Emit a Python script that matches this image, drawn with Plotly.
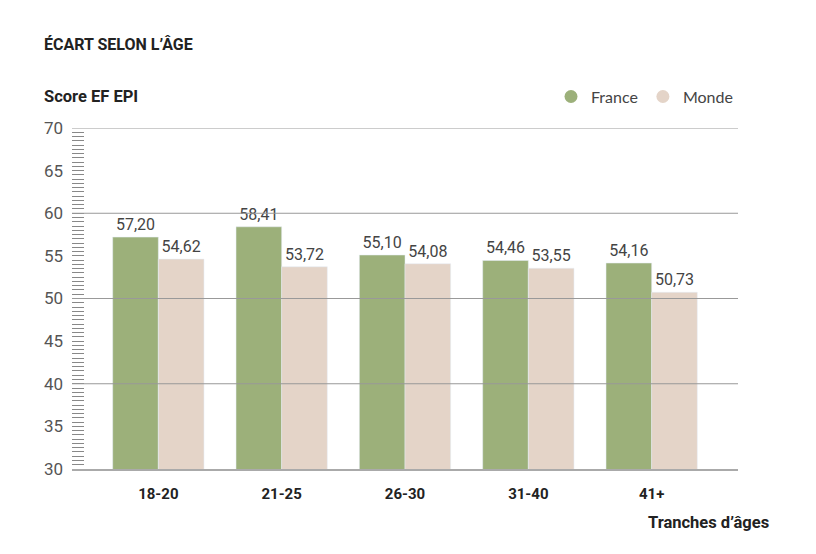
import plotly.graph_objects as go

categories = ["18-20", "21-25", "26-30", "31-40", "41+"]
france = [57.20, 58.41, 55.10, 54.46, 54.16]
monde = [54.62, 53.72, 54.08, 53.55, 50.73]
gridlines = [40, 50, 60, 70]

GREEN = "#9cb07a"
BEIGE = "#e4d4c8"
NUM_FONT = "Liberation Sans Narrow, Roboto, sans-serif"
BOLD_FONT = "Roboto, sans-serif"

fig = go.Figure()
fig.add_trace(go.Bar(x=categories, y=france, name="France", marker_color=GREEN,
                     texttemplate="%{y:.2f}", textposition="outside",
                     textfont=dict(family=NUM_FONT, size=16, color="#444"),
                     cliponaxis=False, showlegend=False))
fig.add_trace(go.Bar(x=categories, y=monde, name="Monde", marker_color=BEIGE,
                     texttemplate="%{y:.2f}", textposition="outside",
                     textfont=dict(family=NUM_FONT, size=16, color="#444"),
                     cliponaxis=False, showlegend=False))
# legend entries with round markers
fig.add_trace(go.Scatter(x=[None], y=[None], mode="markers", name="France",
                         marker=dict(symbol="circle", size=13, color=GREEN)))
fig.add_trace(go.Scatter(x=[None], y=[None], mode="markers", name="Monde",
                         marker=dict(symbol="circle", size=13, color=BEIGE)))

for g in gridlines:
    fig.add_shape(type="line", xref="paper", x0=0, x1=1, yref="y", y0=g, y1=g,
                  line=dict(color="#999999", width=1), layer="above")

fig.update_layout(
    width=816, height=554,
    margin=dict(l=72, r=78, t=128, b=85),
    paper_bgcolor="white", plot_bgcolor="white",
    separators=", ",
    barmode="group", bargap=0.26, bargroupgap=0,
    showlegend=True,
    legend=dict(orientation="h", xanchor="right", x=1.0, yanchor="middle", y=1.092,
                font=dict(family="Lato, sans-serif", size=16, color="#444"),
                itemwidth=30, tracegroupgap=0, bgcolor="rgba(0,0,0,0)"),
    xaxis=dict(range=[-0.70, 4.70], showgrid=False, showline=True, linecolor="#aaaaaa",
               linewidth=1.5, ticks="", zeroline=False,
               tickfont=dict(family=BOLD_FONT, size=15, color="#222", weight="bold"),
               ticklabelstandoff=10),
    yaxis=dict(range=[30, 70], dtick=5, tick0=30, showgrid=False, zeroline=False,
               showline=False, ticks="inside", ticklen=12, tickwidth=1.2, tickcolor="#888",
               minor=dict(dtick=0.5, tick0=30, ticks="inside", ticklen=12, tickwidth=1.2,
                          tickcolor="#888", showgrid=False),
               tickfont=dict(family=NUM_FONT, size=17, color="#555"),
               ticklabelstandoff=8),
    annotations=[
        dict(text="<b>ÉCART SELON L’ÂGE</b>", xref="paper", yref="paper", x=-0.045, y=1.2445,
             xanchor="left", yanchor="middle", showarrow=False,
             font=dict(family=BOLD_FONT, size=16, color="#222")),
        dict(text="<b>Score EF EPI</b>", xref="paper", yref="paper", x=-0.045, y=1.092,
             xanchor="left", yanchor="middle", showarrow=False,
             font=dict(family=BOLD_FONT, size=16.5, color="#222")),
        dict(text="<b>Tranches d’âges</b>", xref="paper", yref="paper", x=1.05, y=-0.158,
             xanchor="right", yanchor="middle", showarrow=False,
             font=dict(family=BOLD_FONT, size=16.5, color="#222")),
    ],
)

fig.write_html("out.html")
